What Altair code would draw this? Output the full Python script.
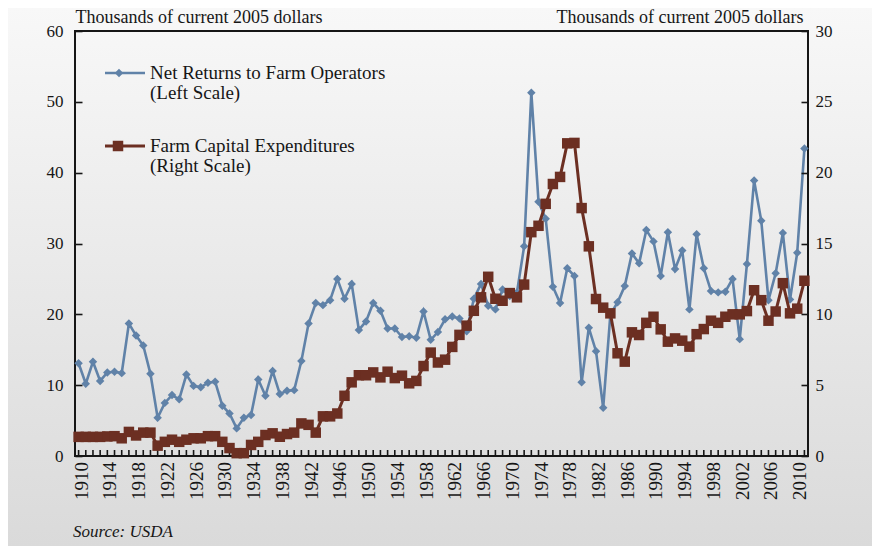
import altair as alt
import pandas as pd

years = list(range(1910, 2012))

net_returns = [
    13.1, 10.2, 13.3, 10.6, 11.8, 11.9, 11.7, 18.7, 17.0, 15.6,   # 1910-1919
    11.6, 5.4, 7.5, 8.6, 8.0, 11.5, 9.9, 9.7, 10.35, 10.5,        # 1920-1929
    7.1, 6.0, 3.9, 5.4, 5.8, 10.8, 8.5, 12.0, 8.75, 9.2,          # 1930-1939
    9.3, 13.4, 18.7, 21.6, 21.3, 22.0, 25.0, 22.2, 24.3, 17.8,    # 1940-1949
    19.0, 21.6, 20.5, 18.0, 18.0, 16.8, 16.9, 16.7, 20.4, 16.4,   # 1950-1959
    17.5, 19.3, 19.7, 19.4, 17.6, 22.2, 24.3, 21.2, 20.7, 23.5,   # 1960-1969
    22.6, 23.1, 29.6, 51.3, 35.9, 33.5, 23.9, 21.6, 26.5, 25.4,   # 1970-1979
    10.4, 18.1, 14.8, 6.8, 20.0, 21.7, 24.0, 28.6, 27.2, 31.9,    # 1980-1989
    30.3, 25.4, 31.6, 26.4, 29.0, 20.7, 31.3, 26.5, 23.3, 23.1,   # 1990-1999
    23.2, 25.0, 16.5, 27.1, 38.9, 33.2, 22.0, 25.8, 31.5, 22.1,   # 2000-2009
    28.7, 43.4,                                                   # 2010-2011
]

capital_expenditures = [
    1.35, 1.35, 1.35, 1.35, 1.38, 1.4, 1.25, 1.7, 1.45, 1.65,     # 1910-1919
    1.65, 0.73, 1.0, 1.15, 1.0, 1.15, 1.25, 1.25, 1.4, 1.4,       # 1920-1929
    1.0, 0.56, 0.2, 0.2, 0.78, 1.0, 1.48, 1.6, 1.36, 1.55,        # 1930-1939
    1.65, 2.3, 2.2, 1.65, 2.8, 2.8, 3.0, 4.25, 5.2, 5.7,          # 1940-1949
    5.7, 5.9, 5.55, 5.95, 5.5, 5.67, 5.13, 5.3, 6.35, 7.3,        # 1950-1959
    6.6, 6.8, 7.7, 8.55, 9.2, 10.25, 11.2, 12.65, 11.1, 10.96,    # 1960-1969
    11.5, 11.2, 12.1, 15.8, 16.25, 17.8, 19.2, 19.7, 22.07, 22.1, # 1970-1979
    17.5, 14.8, 11.08, 10.47, 10.07, 7.25, 6.66, 8.73, 8.54, 9.4, # 1980-1989
    9.83, 8.94, 8.07, 8.3, 8.14, 7.72, 8.6, 8.96, 9.55, 9.4,      # 1990-1999
    9.83, 10.0, 10.0, 10.23, 11.7, 11.0, 9.55, 10.2, 12.2, 10.07, # 2000-2009
    10.4, 12.37,                                                  # 2010-2011
]

label_years = list(range(1910, 2012, 4))
left_ticks = [0, 10, 20, 30, 40, 50, 60]
right_ticks = [0, 5, 10, 15, 20, 25, 30]
axis_title = "Thousands of current 2005 dollars"
series_names = ["Net Returns to Farm Operators", "Farm Capital Expenditures"]
series_notes = ["(Left Scale)", "(Right Scale)"]
source_text = "Source: USDA"

BLUE = "#6082a8"
RED = "#6c2f22"
INK = "#161616"
FONT = "Liberation Serif"
W, H = 733, 425

df = pd.DataFrame({"year": years, "net": net_returns, "cap": capital_expenditures})
ticks_df = pd.DataFrame({"year": years})
labels_df = pd.DataFrame({"year": label_years})
one = pd.DataFrame({"k": [0]})

gradient = {
    "gradient": "linear",
    "x1": 0, "y1": 0, "x2": 0, "y2": 1,
    "stops": [
        {"offset": 0, "color": "#f8f8f8"},
        {"offset": 1, "color": "#dadada"},
    ],
}

bg = alt.Chart(one).mark_rect(color=gradient).encode(
    x=alt.value(-67), x2=alt.value(W + 64), y=alt.value(-23), y2=alt.value(H + 90)
)

border = alt.Chart(one).mark_rect(filled=False, color=INK, strokeWidth=2).encode(
    x=alt.value(0), x2=alt.value(W), y=alt.value(0), y2=alt.value(H)
)

xscale = alt.Scale(domain=[1909.5, 2011.5], nice=False, zero=False)

# minor year ticks pointing up from the bottom edge
year_ticks = alt.Chart(ticks_df).mark_rule(color=INK, strokeWidth=1.6).encode(
    x=alt.X("year:Q", scale=xscale, axis=None),
    y=alt.value(H - 6),
    y2=alt.value(H),
)

# rotated year labels every four years
year_labels = alt.Chart(labels_df).mark_text(
    angle=270, align="right", baseline="middle", font=FONT, fontSize=19,
    color=INK, dx=-6, dy=3,
).encode(
    x=alt.X("year:Q", scale=xscale, axis=None),
    y=alt.value(H),
    text=alt.Text("year:Q", format="d"),
)

left_axis = alt.Axis(
    orient="left",
    values=left_ticks,
    tickSize=7,
    offset=-7,
    tickWidth=1.6,
    tickColor=INK,
    domain=False,
    grid=False,
    labelPadding=12,
    title=axis_title,
    titleAngle=0,
    titleAlign="left",
    titleBaseline="alphabetic",
    titleX=-7,
    titleY=-9,
    zindex=1,
)

right_axis = alt.Axis(
    orient="right",
    values=right_ticks,
    tickSize=7,
    offset=-7,
    tickWidth=1.6,
    tickColor=INK,
    domain=False,
    grid=False,
    labelPadding=7,
    title=axis_title,
    titleAngle=0,
    titleAlign="right",
    titleBaseline="alphabetic",
    titleX=2,
    titleY=-9,
    zindex=1,
)

blue = alt.Chart(df).mark_line(
    color=BLUE, strokeWidth=2.6,
    point=alt.OverlayMarkDef(shape="diamond", filled=True, size=72, color=BLUE, opacity=1),
).encode(
    x=alt.X("year:Q", scale=xscale, axis=None),
    y=alt.Y("net:Q", scale=alt.Scale(domain=[0, 60], nice=False), axis=left_axis),
)

red = alt.Chart(df).mark_line(
    color=RED, strokeWidth=3,
    point=alt.OverlayMarkDef(shape="square", filled=True, size=110, color=RED, opacity=1),
).encode(
    x=alt.X("year:Q", scale=xscale, axis=None),
    y=alt.Y("cap:Q", scale=alt.Scale(domain=[0, 30], nice=False), axis=right_axis),
)

def legend_text(txt, x, y, italic=False, size=19):
    return alt.Chart(one).mark_text(
        text=txt, align="left", baseline="middle", font=FONT, fontSize=size,
        color=INK, fontStyle="italic" if italic else "normal",
    ).encode(x=alt.value(x), y=alt.value(y))

leg_blue_line = alt.Chart(one).mark_rule(color=BLUE, strokeWidth=2.6).encode(
    x=alt.value(30), x2=alt.value(70), y=alt.value(42)
)
leg_blue_pt = alt.Chart(one).mark_point(
    shape="diamond", filled=True, size=72, color=BLUE, opacity=1
).encode(x=alt.value(44), y=alt.value(42))
leg_red_line = alt.Chart(one).mark_rule(color=RED, strokeWidth=3).encode(
    x=alt.value(30), x2=alt.value(70), y=alt.value(115)
)
leg_red_pt = alt.Chart(one).mark_point(
    shape="square", filled=True, size=110, color=RED, opacity=1
).encode(x=alt.value(43), y=alt.value(115))

chart = alt.layer(
    bg,
    border,
    year_ticks,
    year_labels,
    blue,
    red,
    leg_blue_line, leg_blue_pt,
    leg_red_line, leg_red_pt,
    legend_text(series_names[0], 75, 42),
    legend_text(series_notes[0], 75, 62),
    legend_text(series_names[1], 75, 115),
    legend_text(series_notes[1], 75, 135),
    legend_text(source_text, -2, 501, italic=True, size=17),
).resolve_scale(
    y="independent"
).properties(
    width=W,
    height=H,
    autosize=alt.AutoSizeParams(type="none"),
    padding={"left": 67, "top": 23, "right": 64, "bottom": 90},
).configure_view(
    strokeWidth=0
).configure_axis(
    labelFont=FONT,
    labelFontSize=17,
    labelColor=INK,
    titleFont=FONT,
    titleFontSize=18,
    titleFontWeight="normal",
    titleColor=INK,
)

chart.save("out.html", embed_options={"renderer": "svg", "actions": False})
